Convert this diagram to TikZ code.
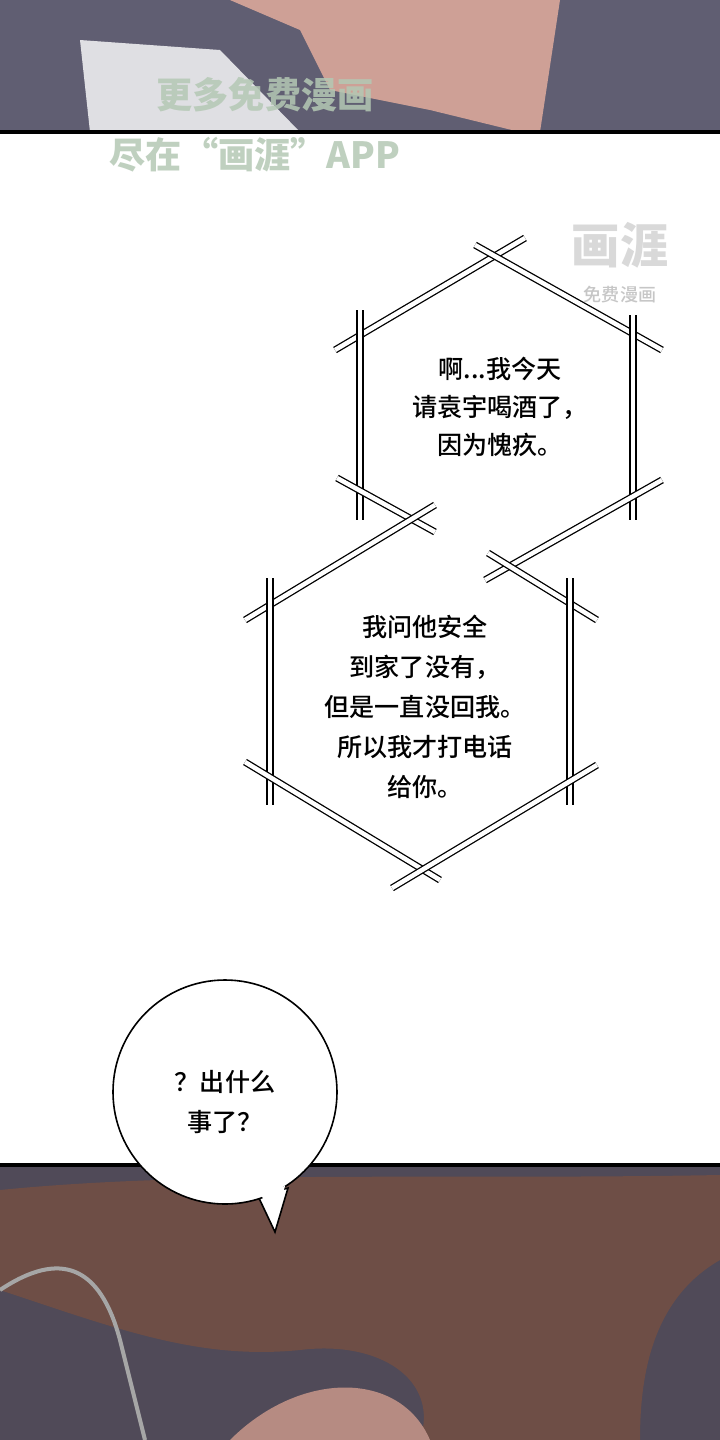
\documentclass[tikz,border=0pt]{standalone}
\usepackage{fontspec}
\newfontfamily\cjk{Noto Sans CJK SC Medium}
\newfontfamily\cjkb{Noto Sans CJK SC Black}
\definecolor{topPanel}{RGB}{96,94,114}
\definecolor{skinTone}{RGB}{206,160,150}
\definecolor{botPanel}{RGB}{80,74,88}
\definecolor{hairTone}{RGB}{110,78,70}
\definecolor{markColor}{RGB}{180,200,180}
\tikzset{
  hexEdge/.style = {draw=black, double=white, double distance=4.5pt, line width=1.3pt},
  bubbleText/.style = {font=\cjk\fontsize{25}{38}\selectfont, align=center},
  panelLine/.style = {line width=4pt, draw=black}
}
\begin{document}
\begin{tikzpicture}[x=0.035cm, y=-0.035cm]
  \useasboundingbox (0,0) rectangle (720,1440);
  \fill[white] (0,0) rectangle (720,1440);
  % top panel
  \fill[topPanel] (0,0) rectangle (720,132);
  \fill[skinTone] (230,0) -- (300,30) -- (330,90) -- (430,110) -- (520,132) -- (540,132) -- (560,0) -- cycle;
  \fill[white!80!topPanel] (80,40) -- (220,50) -- (300,132) -- (90,132) -- cycle;
  \draw[panelLine] (0,132) -- (720,132);
  \node[font=\cjkb\fontsize{36}{36}\selectfont, text=markColor, opacity=.85] (markA) at (265,95) {更多免费漫画};
  \node[font=\cjkb\fontsize{36}{36}\selectfont, text=markColor, opacity=.85] (markB) at (255,155) {尽在“画涯”APP};
  \node[font=\cjkb\fontsize{48}{48}\selectfont, text=gray!30] (logo) at (620,245) {画涯};
  \node[font=\cjk\fontsize{18}{18}\selectfont, text=gray!45] (logoSub) at (620,295) {免费漫画};
  % hexagon bubble one
  \draw[hexEdge] (335,350) -- (525,238);
  \draw[hexEdge] (475,245) -- (662,350);
  \draw[hexEdge] (360,310) -- (360,520);
  \draw[hexEdge] (633,315) -- (633,520);
  \draw[hexEdge] (337,478) -- (435,532);
  \draw[hexEdge] (662,480) -- (485,580);
  \node[bubbleText] (textOne) at (500,407) {啊...我今天\\请袁宇喝酒了，\\因为愧疚。};
  % hexagon bubble two
  \draw[hexEdge] (245,620) -- (435,505);
  \draw[hexEdge] (488,553) -- (597,620);
  \draw[hexEdge] (270,578) -- (270,805);
  \draw[hexEdge] (570,578) -- (570,805);
  \draw[hexEdge] (245,762) -- (440,880);
  \draw[hexEdge] (597,765) -- (392,888);
  \node[bubbleText, font=\cjk\fontsize{25}{40}\selectfont] (textTwo) at (425,707) {我问他安全\\到家了没有，\\但是一直没回我。\\所以我才打电话\\给你。};
  % bottom panel
  \fill[botPanel] (0,1165) rectangle (720,1440);
  \fill[hairTone] (0,1190) .. controls (200,1170) and (450,1180) .. (720,1175) -- (720,1260) .. controls (650,1300) and (640,1380) .. (640,1440) -- (420,1440) .. controls (440,1380) and (380,1340) .. (300,1350) .. controls (200,1360) and (120,1330) .. (0,1290) -- cycle;
  \fill[skinTone!75!hairTone] (230,1440) .. controls (300,1370) and (400,1370) .. (430,1440) -- cycle;
  \draw[line width=4pt, draw=gray!70] (0,1290) .. controls (60,1250) and (100,1265) .. (120,1340) -- (145,1440);
  \draw[panelLine] (0,1165) -- (720,1165);
  % round bubble
  \draw[line width=1.6pt, fill=white] (258,1196) -- (275,1232) -- (288,1188) -- cycle;
  \draw[line width=1.6pt, fill=white] (225,1092) circle (112);
  \fill[white] (260,1192) -- (275,1225) -- (285,1186) -- cycle;
  \node[bubbleText, font=\cjk\fontsize{25}{40}\selectfont] (textThree) at (225,1102) {？出什么\\事了？};
\end{tikzpicture}
\end{document}
